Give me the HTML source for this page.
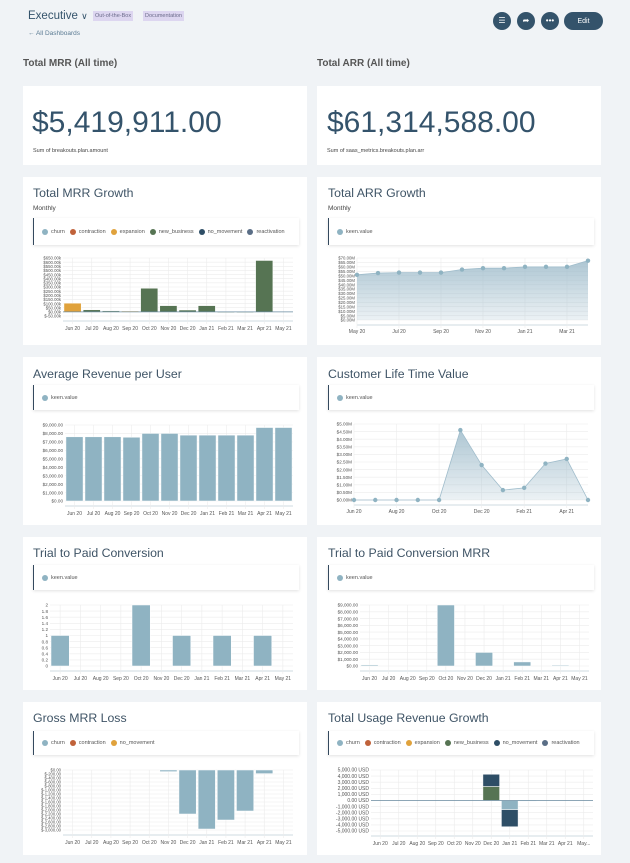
<!DOCTYPE html>
<html><head><meta charset="utf-8"><style>
body{margin:0;width:630px;height:863px;background:#f0f3f6;font-family:"Liberation Sans",sans-serif;position:relative;overflow:hidden}
.a{position:absolute}
.card{position:absolute;background:#fff}
.t{position:absolute;font-size:12.3px;color:#3f5466}
.leg{position:absolute;background:#fff;border-left:1.5px solid #34495e;box-shadow:0 1px 3px rgba(0,0,0,.12);font-size:5.5px;color:#555;display:flex;align-items:center;padding-left:8px;box-sizing:border-box}
.leg span{display:inline-flex;align-items:center;margin-right:5px}
.leg i{display:inline-block;width:6px;height:6px;border-radius:50%;margin-right:3px}
.btn{position:absolute;width:18px;height:18px;border-radius:50%;background:#34536b;color:#fff;font-size:8px;text-align:center;line-height:18px}
</style></head><body>
<div class="a" style="left:28px;top:10px;font-size:11.5px;color:#34536b">Executive <span style="font-size:9px">∨</span></div>
<div class="a" style="left:93px;top:11px;background:#ddd6f0;font-size:5.5px;color:#6b6b8a;padding:2px 2px">Out-of-the-Box</div>
<div class="a" style="left:143px;top:11px;background:#ddd6f0;font-size:5.5px;color:#6b6b8a;padding:2px 2px">Documentation</div>
<div class="a" style="left:28px;top:30px;font-size:6.5px;color:#5b7b93">← All Dashboards</div>
<div class="btn" style="left:493px;top:12px">☰</div>
<div class="btn" style="left:517px;top:12px">➦</div>
<div class="btn" style="left:541px;top:12px">•••</div>
<div class="btn" style="left:564px;top:12px;width:39px;border-radius:10px;font-size:7px;line-height:19px">Edit</div>
<div class="a" style="left:23px;top:58px;font-size:10px;font-weight:bold;color:#555">Total MRR (All time)</div>
<div class="a" style="left:317px;top:58px;font-size:10px;font-weight:bold;color:#555">Total ARR (All time)</div>

<div class="card" style="left:23px;top:86px;width:284px;height:79px">
<div class="a" style="left:9px;top:20px;font-size:30px;color:#34536b">$5,419,911.00</div>
<div class="a" style="left:10px;top:62px;font-size:5.5px;color:#444">Sum of breakouts.plan.amount</div></div>
<div class="card" style="left:317px;top:86px;width:284px;height:79px">
<div class="a" style="left:10px;top:20px;font-size:30px;color:#34536b">$61,314,588.00</div>
<div class="a" style="left:10px;top:62px;font-size:5.5px;color:#444">Sum of saas_metrics.breakouts.plan.arr</div></div>

<div class="card" style="left:23px;top:177px;width:284px;height:168px"></div>
<div class="card" style="left:317px;top:177px;width:284px;height:168px"></div>
<div class="card" style="left:23px;top:357px;width:284px;height:168px"></div>
<div class="card" style="left:317px;top:357px;width:284px;height:168px"></div>
<div class="card" style="left:23px;top:537px;width:284px;height:153px"></div>
<div class="card" style="left:317px;top:537px;width:284px;height:153px"></div>
<div class="card" style="left:23px;top:702px;width:284px;height:153px"></div>
<div class="card" style="left:317px;top:702px;width:284px;height:153px"></div>

<div class="t" style="left:33px;top:186px">Total MRR Growth</div>
<div class="a" style="left:33px;top:205px;font-size:6.5px;color:#444">Monthly</div>
<div class="t" style="left:328px;top:186px">Total ARR Growth</div>
<div class="a" style="left:328px;top:205px;font-size:6.5px;color:#444">Monthly</div>
<div class="t" style="left:33px;top:367px">Average Revenue per User</div>
<div class="t" style="left:328px;top:367px">Customer Life Time Value</div>
<div class="t" style="left:33px;top:546px">Trial to Paid Conversion</div>
<div class="t" style="left:328px;top:546px">Trial to Paid Conversion MRR</div>
<div class="t" style="left:33px;top:711px">Gross MRR Loss</div>
<div class="t" style="left:328px;top:711px">Total Usage Revenue Growth</div>

<div class="leg" style="left:33px;top:218px;width:266px;height:27px">
<span><i style="background:#8fb3c2"></i>churn</span><span><i style="background:#c0623a"></i>contraction</span><span><i style="background:#e0a23c"></i>expansion</span><span><i style="background:#567453"></i>new_business</span><span><i style="background:#2e4e66"></i>no_movement</span><span><i style="background:#5a6e86"></i>reactivation</span></div>
<div class="leg" style="left:328px;top:218px;width:266px;height:27px"><span><i style="background:#8fb3c2"></i>keen.value</span></div>
<div class="leg" style="left:33px;top:385px;width:266px;height:25px"><span><i style="background:#8fb3c2"></i>keen.value</span></div>
<div class="leg" style="left:328px;top:385px;width:266px;height:25px"><span><i style="background:#8fb3c2"></i>keen.value</span></div>
<div class="leg" style="left:33px;top:565px;width:266px;height:25px"><span><i style="background:#8fb3c2"></i>keen.value</span></div>
<div class="leg" style="left:328px;top:565px;width:266px;height:25px"><span><i style="background:#8fb3c2"></i>keen.value</span></div>
<div class="leg" style="left:33px;top:731px;width:266px;height:24px"><span><i style="background:#8fb3c2"></i>churn</span><span><i style="background:#c0623a"></i>contraction</span><span><i style="background:#e0a23c"></i>no_movement</span></div>
<div class="leg" style="left:328px;top:731px;width:266px;height:24px">
<span><i style="background:#8fb3c2"></i>churn</span><span><i style="background:#c0623a"></i>contraction</span><span><i style="background:#e0a23c"></i>expansion</span><span><i style="background:#567453"></i>new_business</span><span><i style="background:#2e4e66"></i>no_movement</span><span><i style="background:#5a6e86"></i>reactivation</span></div>

<svg id="charts" class="a" style="left:0;top:0" width="630" height="863" font-family="Liberation Sans, sans-serif">
<defs><linearGradient id="ag" x1="0" y1="0" x2="0" y2="1"><stop offset="0" stop-color="#9fbccb" stop-opacity=".85"/><stop offset="1" stop-color="#9fbccb" stop-opacity=".2"/></linearGradient></defs>
</svg>
<script>
const months = ["Jun 20","Jul 20","Aug 20","Sep 20","Oct 20","Nov 20","Dec 20","Jan 21","Feb 21","Mar 21","Apr 21","May 21"];
const usageMonths = ["Jun 20","Jul 20","Aug 20","Sep 20","Oct 20","Nov 20","Dec 20","Jan 21","Feb 21","Mar 21","Apr 21","May..."];
const mrrExpansion = [105000,0,0,10000,0,5000,0,0,0,0,0,0];
const mrrNewBusiness = [0,25000,12000,0,285000,75000,22000,75000,2000,2000,620000,0];
const mrrTicks = [-50000,0,50000,100000,150000,200000,250000,300000,350000,400000,450000,500000,550000,600000,650000];
const arrLabels = ["May 20","Jul 20","Sep 20","Nov 20","Jan 21","Mar 21"];
const arrValues = [51,53,53.5,53.5,53.5,57,58.5,58.5,60,60,60,67];
const arrTicks = [0,5,10,15,20,25,30,35,40,45,50,55,60,65,70];
const arpuValues = [7600,7600,7600,7550,8000,8000,7800,7800,7800,7800,8700,8700];
const arpuTicks = [0,1000,2000,3000,4000,5000,6000,7000,8000,9000];
const cltvLabels = ["Jun 20","Aug 20","Oct 20","Dec 20","Feb 21","Apr 21"];
const cltvValues = [0,0,0,0,0,4.6,2.3,0.65,0.8,2.4,2.7,0];
const cltvTicks = [0,0.5,1,1.5,2,2.5,3,3.5,4,4.5,5];
const trialValues = [1,0,0,0,2,0,1,0,1,0,1,0];
const trialTicks = [0,0.2,0.4,0.6,0.8,1,1.2,1.4,1.6,1.8,2];
const trialMrrValues = [150,0,0,0,9000,0,2000,0,600,0,100,0];
const lossChurn = [0,0,0,0,0,-80,-2200,-2950,-2500,-2050,-180,0];
const lossTicks = [0,-200,-400,-600,-800,-1000,-1200,-1400,-1600,-1800,-2000,-2200,-2400,-2600,-2800,-3000];
const usageNewBusiness = [0,0,0,0,0,0,2300,0,0,0,0,0];
const usageNoMovementPos = [0,0,0,0,0,0,2000,0,0,0,0,0];
const usageChurn = [0,0,0,0,0,0,0,-1500,-100,0,0,0];
const usageNoMovementNeg = [0,0,0,0,0,0,0,-2800,0,0,0,0];
const usageTicks = [-5000,-4000,-3000,-2000,-1000,0,1000,2000,3000,4000,5000];

const svg = document.getElementById('charts');
const NS = 'http://www.w3.org/2000/svg';
function el(tag, attrs, parent){const e=document.createElementNS(NS,tag);for(const k in attrs)e.setAttribute(k,attrs[k]);(parent||svg).appendChild(e);return e;}
function txt(x,y,s,anchor,parent,size){const t=el('text',{x:x,y:y,'font-size':size||5,fill:'#555','text-anchor':anchor||'middle'},parent);t.textContent=s;return t;}
const money=(v)=>{const s=Math.abs(v).toLocaleString('en-US',{minimumFractionDigits:2,maximumFractionDigits:2});return (v<0?'$-':'$')+s;};

function frame(o){
  const g=el('g',{});
  
  
  const ys=v=>o.y1-(v-o.min)/(o.max-o.min)*(o.y1-o.y0);
  o.ticks.forEach(v=>{const y=ys(v);el('line',{x1:o.x0,x2:o.x1,y1:y,y2:y,stroke:'#ececec','stroke-width':.6},g);txt(o.x0-2,y+1.7,o.fmt(v),'end',g,o.fs||4.6);});
  el('line',{x1:o.x0,x2:o.x1,y1:o.y1+5,y2:o.y1+5,stroke:'#cfdbe2','stroke-width':1},g);
  return {g,ys};
}
function bars(o){
  const {g,ys}=frame(o);
  const n=o.cats.length, band=(o.x1-o.x0)/n;
  const xs=i=>o.x0+band*(i+.5);
  o.cats.forEach((c,i)=>{el('line',{x1:xs(i),x2:xs(i),y1:o.y0,y2:o.y1+8,stroke:'#ececec','stroke-width':.6},g);txt(xs(i),o.y1+14,c,'middle',g,5);});
  o.stacks.forEach(stack=>{stack.forEach(s=>{
    o.cats.forEach((c,i)=>{const v=s.vals[i];if(!v)return;
      const ya=ys(s.base?s.base[i]:0), yb=ys((s.base?s.base[i]:0)+v);
      const r=el('rect',{x:xs(i)-band*.45,width:band*.9,y:Math.min(ya,yb),height:Math.max(Math.abs(ya-yb),.8),fill:s.color,stroke:'#fff','stroke-width':.5},g);
      
      
    });});});
  if(o.zero){el('line',{x1:o.x0,x2:o.x1,y1:ys(0),y2:ys(0),stroke:'#6a8ba0','stroke-width':.8},g);}
}
function area(o){
  const {g,ys}=frame(o);
  const n=o.vals.length, xs=i=>o.x0+(o.x1-o.x0)*i/(n-1);
  o.labelIdx.forEach((li,k)=>{const x=xs(li);el('line',{x1:x,x2:x,y1:o.y0,y2:o.y1+8,stroke:'#ececec','stroke-width':.6},g);txt(x,o.y1+13,o.labels[k],'middle',g,5);});
  let d='M'+xs(0)+','+ys(o.vals[0]);o.vals.forEach((v,i)=>d+=' L'+xs(i)+','+ys(v));
  el('path',{d:d+' L'+xs(n-1)+','+o.y1+' L'+xs(0)+','+o.y1+'Z',fill:'url(#ag)'},g);
  el('path',{d:d,fill:'none',stroke:'#9fbccb','stroke-width':.8},g);
  o.vals.forEach((v,i)=>{const c=el('circle',{cx:xs(i),cy:ys(v),r:2.2,fill:'#8fb3c2'},g);
    
    });
}
const kfmt=v=>(v<0?'$-':'$')+(Math.abs(v)/1000).toFixed(2)+'k';
bars({name:'mrr-growth-chart',x0:63,x1:293,y0:258,y1:316,min:-50000,max:650000,ticks:mrrTicks,fmt:kfmt,cats:months,fs:4.3,zero:true,
  stacks:[[{key:'expansion',vals:mrrExpansion,color:'#e0a23c'}],[{key:'new-business',vals:mrrNewBusiness,color:'#567453'}]]});
area({name:'arr-growth-chart',x0:357,x1:588,y0:258,y1:320,min:0,max:70,ticks:arrTicks,fmt:v=>'$'+v.toFixed(2)+'M',vals:arrValues,labels:arrLabels,labelIdx:[0,2,4,6,8,10],fs:4.3});
bars({name:'arpu-chart',x0:65,x1:293,y0:425,y1:501,min:0,max:9000,ticks:arpuTicks,fmt:money,cats:months,stacks:[[{key:'arpu',vals:arpuValues,color:'#8fb3c2'}]]});
area({name:'cltv-chart',x0:354,x1:588,y0:424,y1:500,min:0,max:5,ticks:cltvTicks,fmt:v=>'$'+v.toFixed(2)+'M',vals:cltvValues,labels:cltvLabels,labelIdx:[0,2,4,6,8,10]});
bars({name:'trial-chart',x0:50,x1:293,y0:605,y1:666,min:0,max:2,ticks:trialTicks,fmt:v=>String(+v.toFixed(1)),cats:months,stacks:[[{key:'trial',vals:trialValues,color:'#8fb3c2'}]]});
bars({name:'trial-mrr-chart',x0:360,x1:589,y0:605,y1:666,min:0,max:9000,ticks:arpuTicks,fmt:money,cats:months,stacks:[[{key:'trial-mrr',vals:trialMrrValues,color:'#8fb3c2'}]]});
bars({name:'gross-loss-chart',x0:63,x1:293,y0:770,y1:830,min:-3000,max:0,ticks:lossTicks,fmt:money,cats:months,fs:4.2,stacks:[[{key:'churn',vals:lossChurn,color:'#8fb3c2'}]]});
const usageNoMovBase=usageNewBusiness.slice(), usageNegBase=usageChurn.slice();
bars({name:'usage-chart',x0:371,x1:593,y0:770,y1:831,min:-5000,max:5000,ticks:usageTicks,fmt:v=>v.toLocaleString('en-US',{minimumFractionDigits:2})+' USD',cats:usageMonths,zero:true,fs:5,
  stacks:[[{key:'new-business',vals:usageNewBusiness,color:'#567453'},{key:'no-movement',vals:usageNoMovementPos,base:usageNoMovBase,color:'#2e4e66'}],
          [{key:'churn',vals:usageChurn,color:'#8fb3c2'},{key:'no-movement-neg',vals:usageNoMovementNeg,base:usageNegBase,color:'#2e4e66'}]]});
</script>
</body></html>
